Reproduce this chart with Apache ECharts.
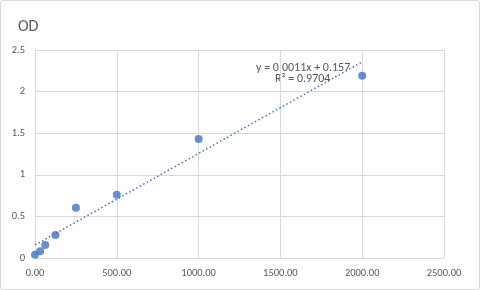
<!DOCTYPE html>
<html><head><meta charset="utf-8">
<script src="https://cdn.jsdelivr.net/npm/echarts@6/dist/echarts.min.js"></script>
<style>html,body{margin:0;padding:0;background:#fff}#c{width:480px;height:290px}</style>
</head><body><div id="c"></div>
<script>
const concentrations = [0, 31.25, 62.5, 125, 250, 500, 1000, 2000];
const odValues = [0.04, 0.08, 0.155, 0.275, 0.605, 0.76, 1.43, 2.19];
const slope = 0.0011, intercept = 0.157, r2 = 0.9704;
const trendX = [0, 2000];
const titleText = 'OD';

const chart = echarts.init(document.getElementById('c'));
const font = 'Calibri, Carlito, "Liberation Sans", "Open Sans", sans-serif';
chart.setOption({
  animation: false,
  graphic: [
    {type:'rect', shape:{x:0.5,y:0.5,width:479,height:289,r:2}, style:{fill:'none',stroke:'#d9d9d9',lineWidth:1}, silent:true},
    {type:'text', left:18, top:19, style:{text:titleText, fill:'#595959', font:'16px ' + font}},
    {type:'text', left:256, top:62, style:{text:'y = ' + slope + 'x + ' + intercept, fill:'#595959', font:'12px ' + font}},
    {type:'text', left:275, top:73, style:{text:'R² = ' + r2, fill:'#595959', font:'12px ' + font}}
  ],
  grid: {left:35, right:36, top:50, bottom:32},
  xAxis: {type:'value', min:0, max:2500, interval:500,
    axisLine:{show:true, lineStyle:{color:'#d9d9d9'}}, axisTick:{show:false},
    splitLine:{show:true, lineStyle:{color:'#d9d9d9'}},
    axisLabel:{color:'#595959', fontSize:10.5, fontFamily:font, margin:10, formatter:v=>v.toFixed(2)}},
  yAxis: {type:'value', min:0, max:2.5, interval:0.5,
    axisLine:{show:true, lineStyle:{color:'#d9d9d9'}}, axisTick:{show:false},
    splitLine:{show:true, lineStyle:{color:'#d9d9d9'}},
    axisLabel:{color:'#595959', fontSize:10.5, fontFamily:font, margin:10}},
  series: [
    {type:'line', data: trendX.map(x=>[x, slope*x+intercept]), symbol:'none',
      lineStyle:{color:'#4472C4', width:1.5, type:[1.5,2.5]}, z:1},
    {type:'scatter', data: concentrations.map((x,i)=>[x, odValues[i]]), symbolSize:8,
      itemStyle:{color:'#4472C4'}, z:2}
  ]
});
</script></body></html>
